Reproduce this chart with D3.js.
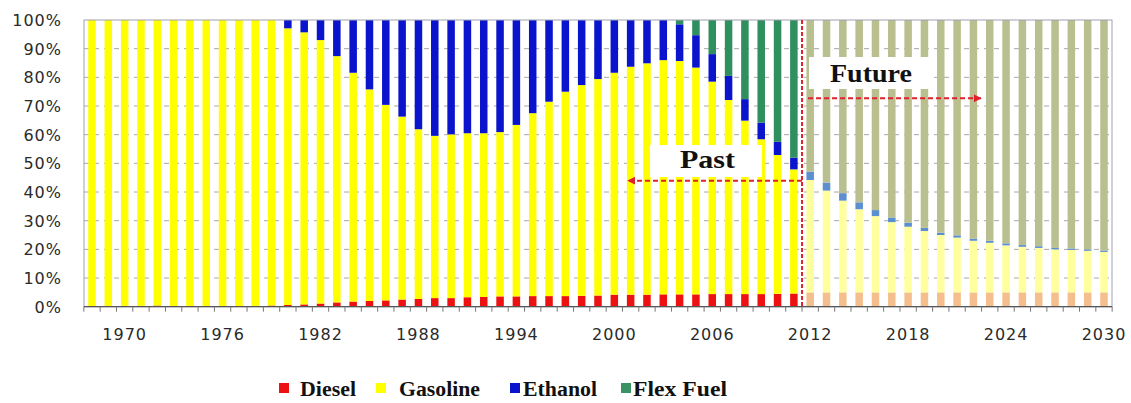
<!DOCTYPE html>
<html><head><meta charset="utf-8">
<script src="https://cdn.jsdelivr.net/npm/d3@7"></script>
<style>body{margin:0;background:#fff}svg{display:block}</style>
</head><body><svg id="c" width="1131" height="403"></svg>
<script>
// ---------- data (percent shares) ----------
const years = d3.range(1968, 2031);
const firstProjectedYear = 2012;
const diesel = [0.2,0.3,0.3,0.3,0.4,0.2,0.2,0.2,0.2,0.2,0.3,0.4,
  0.6,0.8,1.1,1.5,1.8,2.0,2.2,2.5,2.7,3.0,3.0,3.3,3.4,3.6,3.6,3.7,3.7,3.7,3.8,3.9,
  4.2,4.2,4.2,4.3,4.3,4.3,4.4,4.4,4.4,4.4,4.5,4.6,
  5.0,5.0,5.0,5.0,5.0,5.0,5.0,5.0,5.0,5.0,5.0,5.0,5.0,5.0,5.0,5.0,5.0,5.0,5.0];
const gasoline = [99.8,99.7,99.7,99.7,99.6,99.8,99.8,99.8,99.8,99.8,99.7,99.6,
  96.5,94.9,91.9,85.9,79.8,73.8,68.2,63.8,59.2,56.6,57.1,57.2,57.1,57.3,59.8,63.8,67.8,71.3,73.5,75.5,
  77.4,79.5,80.7,81.7,81.4,79.1,74.1,67.7,60.5,54.0,48.4,43.3,
  39.2,35.5,32.0,29.0,26.6,24.5,22.9,21.4,20.0,19.1,18.0,17.3,16.4,15.9,15.5,15.0,14.8,14.5,14.1];
const ethanol = [0,0,0,0,0,0,0,0,0,0,0,0,
  2.9,4.3,7.0,12.6,18.4,24.2,29.6,33.7,38.1,40.4,39.9,39.5,39.5,39.1,36.6,32.5,28.5,25.0,22.7,20.6,
  18.4,16.3,15.1,14.0,12.8,11.3,9.6,8.4,7.5,5.8,4.6,4.1,
  2.9,2.8,2.6,2.4,2.1,1.6,1.4,1.1,0.8,0.8,0.7,0.7,0.7,0.6,0.6,0.5,0.5,0.5,0.5];
const flexFuel = [0,0,0,0,0,0,0,0,0,0,0,0,
  0,0,0,0,0,0,0,0,0,0,0,0,0,0,0,0,0,0,0,0,
  0,0,0,0,1.5,5.3,11.9,19.5,27.6,35.8,42.5,48.0,
  52.9,56.7,60.4,63.6,66.3,68.9,70.7,72.5,74.2,75.1,76.3,77.0,77.9,78.5,78.9,79.5,79.7,80.0,80.4];
const seriesNames = ["Diesel", "Gasoline", "Ethanol", "Flex Fuel"];
const pastColors = ["#ee1111", "#ffff00", "#0a14cc", "#2f8f5f"];
const futureColors = ["#f4bf8c", "#ffff9e", "#5b8fd0", "#b9bf8f"];
const legendColors = ["#ee1111", "#ffff00", "#0a14cc", "#3a9365"];
const yTickValues = [0, 0.1, 0.2, 0.3, 0.4, 0.5, 0.6, 0.7, 0.8, 0.9, 1];
const xTickLabels = [1970, 1976, 1982, 1988, 1994, 2000, 2006, 2012, 2018, 2024, 2030];

// ---------- layout ----------
const svg = d3.select("#c");
const L = 84, R = 1112, T = 20, B = 306.7;
const x = d3.scaleBand().domain(years).range([L, R]).paddingInner(0.54).paddingOuter(0.26);
const y = d3.scaleLinear().domain([0, 1]).range([B, T]);

const table = years.map((yr, i) => ({year: yr, "Diesel": diesel[i], "Gasoline": gasoline[i], "Ethanol": ethanol[i], "Flex Fuel": flexFuel[i]}));
const layers = d3.stack().keys(seriesNames).offset(d3.stackOffsetExpand)(table);

// gridlines
svg.append("g").selectAll("line").data(yTickValues.filter(v => v > 0 && v < 1)).join("line")
  .attr("x1", L).attr("x2", R).attr("y1", d => y(d)).attr("y2", d => y(d))
  .attr("stroke", "#a8a8a8").attr("stroke-width", 1).attr("stroke-dasharray", "5,5");

// bars
svg.append("g").selectAll("g").data(layers).join("g")
  .each(function(layer, k) {
    d3.select(this).selectAll("rect").data(layer).join("rect")
      .attr("x", d => x(d.data.year))
      .attr("width", x.bandwidth())
      .attr("y", d => y(d[1]))
      .attr("height", d => Math.max(0, y(d[0]) - y(d[1])))
      .attr("fill", d => d.data.year >= firstProjectedYear ? futureColors[k] : pastColors[k]);
  });

// frame
svg.append("rect").attr("x", L).attr("y", T).attr("width", R - L).attr("height", B - T)
  .attr("fill", "none").attr("stroke", "#a0a0b0").attr("stroke-width", 1);
svg.append("line").attr("x1", L).attr("x2", R).attr("y1", B).attr("y2", B)
  .attr("stroke", "#555").attr("stroke-width", 1.2);

// x boundary ticks
const step = x.step();
const bounds = years.map(yr => x(yr) - step * x.paddingInner() / 2).concat([x(2030) + x.bandwidth() + step * x.paddingInner() / 2]);
svg.append("g").selectAll("line").data(bounds).join("line")
  .attr("x1", d => d).attr("x2", d => d).attr("y1", B).attr("y2", B + 5)
  .attr("stroke", "#777").attr("stroke-width", 1);

// y labels
svg.append("g").selectAll("text").data(yTickValues).join("text")
  .attr("x", 62).attr("y", d => y(d) + 6)
  .attr("text-anchor", "end")
  .attr("font-family", "DejaVu Sans").attr("font-size", 16).attr("letter-spacing", 1)
  .attr("fill", "#2a2a2a")
  .text(d => d3.format(".0%")(d));

// x labels
svg.append("g").selectAll("text").data(xTickLabels).join("text")
  .attr("x", d => x(d) + x.bandwidth() / 2).attr("y", 340)
  .attr("text-anchor", "middle")
  .attr("font-family", "DejaVu Sans").attr("font-size", 16).attr("letter-spacing", 1)
  .attr("fill", "#2a2a2a")
  .text(d => d);

// annotations
const divX = x(firstProjectedYear) - step * x.paddingInner() / 2;
const red = "#e0202a";
const defs = svg.append("defs");
defs.append("marker").attr("id", "ah").attr("viewBox", "0 0 10 10").attr("refX", 9).attr("refY", 5)
  .attr("markerWidth", 4).attr("markerHeight", 4).attr("orient", "auto-start-reverse")
  .append("path").attr("d", "M0,0L10,5L0,10z").attr("fill", red);

svg.append("rect").attr("x", 650).attr("y", 145).attr("width", 112).attr("height", 32).attr("fill", "#fff");
svg.append("rect").attr("x", divX + 7).attr("y", 57).attr("width", 120).attr("height", 32).attr("fill", "#fff");

svg.append("line").attr("x1", divX).attr("x2", divX).attr("y1", T).attr("y2", B)
  .attr("stroke", red).attr("stroke-width", 2).attr("stroke-dasharray", "4,2");

svg.append("line").attr("x1", divX).attr("x2", 628).attr("y1", 180.7).attr("y2", 180.7)
  .attr("stroke", red).attr("stroke-width", 2).attr("stroke-dasharray", "5,3").attr("marker-end", "url(#ah)");
svg.append("line").attr("x1", divX + 6).attr("x2", 981).attr("y1", 98.3).attr("y2", 98.3)
  .attr("stroke", red).attr("stroke-width", 2).attr("stroke-dasharray", "5,3").attr("marker-end", "url(#ah)");

svg.append("text").attr("x", 680).attr("y", 168).attr("textLength", 55).attr("lengthAdjust", "spacingAndGlyphs")
  .attr("font-family", "Liberation Serif").attr("font-weight", "bold").attr("font-size", 25).attr("fill", "#111").text("Past");
svg.append("text").attr("x", 830).attr("y", 82).attr("textLength", 82).attr("lengthAdjust", "spacingAndGlyphs")
  .attr("font-family", "Liberation Serif").attr("font-weight", "bold").attr("font-size", 26).attr("fill", "#111").text("Future");

// legend
const legendSquareX = [279, 376, 510, 621];
const legendTextLen = [56, 81, 74, 94];
const lg = svg.append("g");
seriesNames.forEach((name, i) => {
  lg.append("rect").attr("x", legendSquareX[i]).attr("y", 383).attr("width", 10).attr("height", 10).attr("fill", legendColors[i]);
  lg.append("text").attr("x", legendSquareX[i] + 21 + (i === 3 ? -9 : 0) + (i === 1 ? 2 : 0) + (i === 2 ? -8 : 0)).attr("y", 396)
    .attr("textLength", legendTextLen[i]).attr("lengthAdjust", "spacingAndGlyphs")
    .attr("font-family", "Liberation Serif").attr("font-weight", "bold").attr("font-size", 20).attr("fill", "#111")
    .text(name);
});
</script></body></html>
